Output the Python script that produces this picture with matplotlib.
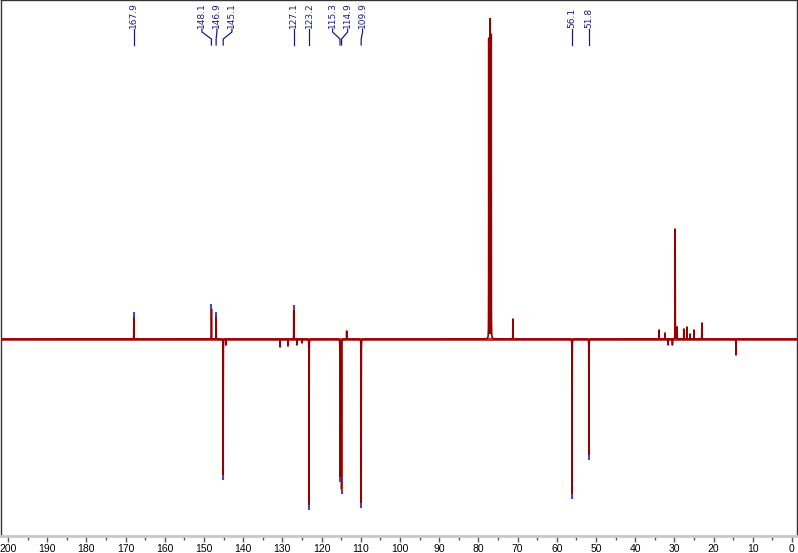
import numpy as np
import matplotlib.pyplot as plt
import matplotlib.transforms as mtransforms

# peaks: shift in ppm, height above the baseline (down = negative)
shift = [167.9, 148.1, 146.9, 145.1, 144.4,
         130.6, 128.6, 127.1, 126.3, 125.0, 123.2,
         115.3, 114.9, 113.6, 109.9,
         77.36, 77.04, 76.72, 71.2,
         56.1, 51.8,
         33.9, 32.4, 31.6, 30.5, 29.8, 29.3,
         27.6, 26.8, 26.0, 25.0, 23.0, 14.3]
height = [22, 30, 22, -136, -6,
          -8, -7, 29, -6, -4, -166,
          -138, -150, 8, -164,
          300, 319, 304, 20,
          -155, -116,
          9, 6, -6, -6, 110, 12,
          10, 12, 5, 9, 16, -16]

# picked peaks with their labels
label_ppm = [167.9, 148.1, 146.9, 145.1, 127.1, 123.2, 115.3, 114.9, 109.9, 56.1, 51.8]

xticks_major = np.arange(0, 201, 10)
xticks_minor = np.arange(0, 201, 5)

red = '#960000'
navy = '#1a1a8c'

fig = plt.figure(figsize=(7.98, 5.53), dpi=100)
ax = fig.add_axes([0.5/798, 17/553, 796.5/798, 536/553])

ppm = np.sort(np.concatenate([np.linspace(201.91, -1.28, 60000), shift]))[::-1]
hw = 0.015
spec = np.zeros_like(ppm)
for s, h in zip(shift, height):
    spec += h / (1 + ((ppm - s) / hw) ** 2)

ax.plot(ppm, spec, color=red, lw=1.2)
ax.axhline(0, color=red, lw=2.0, alpha=0.8, zorder=1)

ax.set_xlim(201.91, -1.28)
ax.set_ylim(-197, 339)

# peak-pick marks at the tips
for p in label_ppm:
    h = height[shift.index(p)]
    d = 5 if h > 0 else -5
    ax.plot([p, p], [h, h + d], color='#4545cc', lw=1.5, solid_capstyle='butt')

# spread the labels so they don't overlap
gap = 15 * (201.91 + 1.28) / 796.5
groups = [[p] for p in sorted(label_ppm, reverse=True)]
def place(g):
    c = np.mean(g)
    n = len(g)
    return [c + (n - 1) / 2 * gap - i * gap for i in range(n)]
changed = True
while changed:
    changed = False
    for i in range(len(groups) - 1):
        if place(groups[i])[-1] - place(groups[i + 1])[0] < gap:
            groups[i] = groups[i] + groups.pop(i + 1)
            changed = True
            break

trans = mtransforms.blended_transform_factory(ax.transData, ax.transAxes)
def fy(px):
    return 1 - px / 536
for g in groups:
    for p, lx in zip(g, place(g)):
        ax.text(lx, fy(28), '%.1f' % p, rotation=90, ha='center', va='bottom',
                fontsize=6.5, color=navy, transform=trans)
        ax.plot([lx, lx, p, p], [fy(29), fy(32), fy(39), fy(45)], color=navy,
                lw=0.9, transform=trans, clip_on=False)

ax.set_xticks(xticks_major)
ax.set_xticks(xticks_minor, minor=True)
ax.set_xticklabels([str(t) for t in xticks_major], fontfamily='Liberation Sans')
ax.set_yticks([])
ax.tick_params(axis='x', which='major', direction='out', length=4, width=1,
               color='#555555', labelsize=7.5, pad=2)
ax.tick_params(axis='x', which='minor', direction='out', length=3, width=1,
               color='#555555')
for side in ['top', 'left', 'right']:
    ax.spines[side].set_color('#333333')
    ax.spines[side].set_linewidth(1)
ax.spines['bottom'].set_color('#c8c8c8')
ax.spines['bottom'].set_linewidth(2)

plt.savefig('out.png', dpi=100)
